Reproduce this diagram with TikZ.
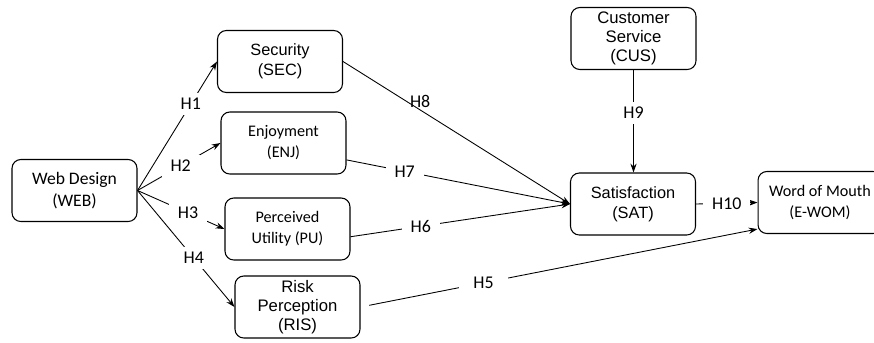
\documentclass[tikz,border=0pt]{standalone}
\usepackage{fontspec}
\setmainfont{Carlito}
\newfontfamily\arialfont{Liberation Sans}
\usetikzlibrary{arrows.meta}

\begin{document}
\begin{tikzpicture}[
    x=0.02cm, y=-0.02cm,
    box/.style={rectangle, draw, rounded corners=5pt, minimum width=2.5cm, minimum height=1.24cm, align=center, inner sep=1pt, line width=0.6pt},
    cal/.style={font=\fontsize{9.2}{12}\selectfont},
    ari/.style={font=\arialfont\fontsize{9.3}{11.5}\selectfont},
    ari3/.style={font=\arialfont\fontsize{9.5}{10.8}\selectfont},
    arr/.style={-{Stealth[length=5pt, width=3.5pt]}, line width=0.5pt},
    lab/.style={fill=white, inner xsep=5pt, inner ysep=3pt, font=\fontsize{10.2}{12}\selectfont},
]
\useasboundingbox (0,0) rectangle (874,342);

\node[box, font=\fontsize{10}{12.5}\selectfont] (web) at (74.5,190.5) {Web Design\\(WEB)};
\node[box, ari] (sec) at (280,61.5) {Security\\(SEC)};
\node[box, cal] (enj) at (283.5,143) {Enjoyment\\(ENJ)};
\node[box, cal] (pu) at (287.5,229) {Perceived\\Utility (PU)};
\node[box, ari3] (ris) at (297.5,307) {Risk\\Perception\\(RIS)};
\node[box, ari3] (cus) at (633.5,38.5) {Customer\\Service\\(CUS)};
\node[box, ari] (sat) at (633,204) {Satisfaction\\(SAT)};
\node[box, cal, minimum width=2.48cm] (wom) at (820,202.5) {Word of Mouth\\(E-WOM)};

% web design to the four drivers
\draw[arr] (web.east) -- (sec.west) node[lab, pos=0.67] {H1};
\draw[arr] (web.east) -- (enj.west) node[lab, pos=0.52] {H2};
\draw[arr] (web.east) -- (pu.west) node[lab, pos=0.58] {H3};
\draw[arr] (web.east) -- (ris.west) node[lab, pos=0.58] {H4};

% drivers to satisfaction
\draw[arr] (sec.east) -- (sat.west) node[pos=0.34, above, inner sep=1pt, font=\fontsize{10.2}{12}\selectfont] {H8};
\draw[arr] (enj.-15) -- (sat.west) node[lab, pos=0.26] {H7};
\draw[arr] (pu.-7) -- (sat.west) node[lab, pos=0.32] {H6};
\draw[arr] (cus.south) -- (cus.south |- sat.north) node[lab, pos=0.42] {H9};

% to word of mouth
\draw[arr] (sat.east) -- (wom.west) node[lab, pos=0.5] {H10};
\draw[arr, shorten <=10\pgflinewidth] (ris.east) -- (wom.203) node[lab, inner xsep=8pt, pos=0.31] {H5};

\end{tikzpicture}
\end{document}
